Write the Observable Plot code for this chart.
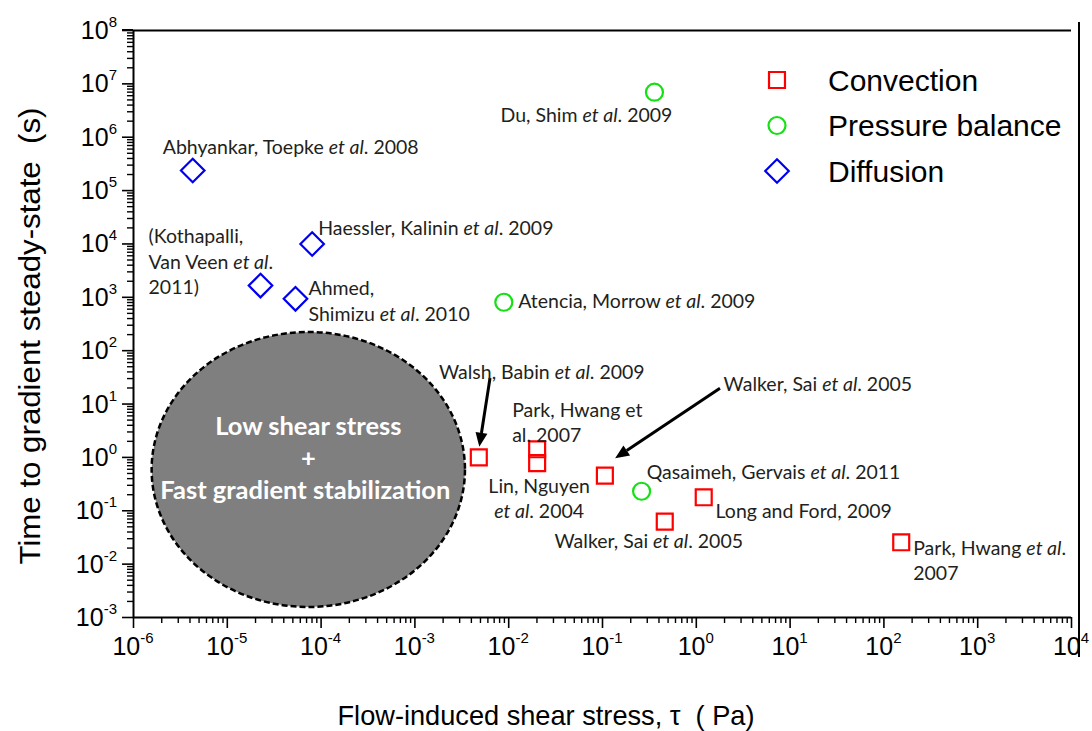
<!DOCTYPE html>
<html><head><meta charset="utf-8">
<script src="https://cdn.jsdelivr.net/npm/d3@7"></script>
<script src="https://cdn.jsdelivr.net/npm/@observablehq/plot@0.6"></script>
<style>
body{margin:0;background:#fff;}
#chart svg{display:block;}
</style></head><body><div id="chart"></div>
<script>
// ---------- data ----------
const convectionTau  = [4.80e-3, 0.0201, 0.0201, 0.106, 0.461, 1.20, 153];
const convectionTime = [1.00, 1.42, 0.78, 0.457, 0.0628, 0.179, 0.0257];
const convectionRefs = ["Walsh, Babin et al. 2009", "Park, Hwang et\nal. 2007", "Lin, Nguyen\net al. 2004",
  "Walker, Sai et al. 2005", "Walker, Sai et al. 2005", "Long and Ford, 2009", "Park, Hwang et al.\n2007"];

const pressureTau  = [0.358, 8.87e-3, 0.261];
const pressureTime = [6.98e6, 809, 0.232];
const pressureRefs = ["Du, Shim et al. 2009", "Atencia, Morrow et al. 2009", "Qasaimeh, Gervais et al. 2011"];

const diffusionTau  = [4.28e-6, 8.03e-5, 2.26e-5, 5.33e-5];
const diffusionTime = [2.38e5, 1.0e4, 1.66e3, 937];
const diffusionRefs = ["Abhyankar, Toepke et al. 2008", "Haessler, Kalinin et al. 2009",
  "(Kothapalli,\nVan Veen et al.\n2011)", "Ahmed,\nShimizu et al. 2010"];

const seriesNames = ["Convection", "Pressure balance", "Diffusion"];
const xExponents = [-6, -5, -4, -3, -2, -1, 0, 1, 2, 3, 4];
const yExponents = [-3, -2, -1, 0, 1, 2, 3, 4, 5, 6, 7, 8];

// annotation: arrows (tail -> head) and shaded region
const arrowFromTau  = [6.4e-3, 1.81];
const arrowFromTime = [30.1, 19.3];
const arrowToTau    = [4.92e-3, 0.138];
const arrowToTime   = [1.55, 0.94];
const regionTau  = [1.58e-6, 3.46e-3];
const regionTime = [219, 1.54e-3];
const regionText = ["Low shear stress", "+", "Fast gradient stabilization"];

// ---------- layout / style (kept apart from data) ----------
const labelLayout = {
  "Convection": [[63,-87,"middle"],[-25,-28,"start"],[2,34,"middle"],[213,-93,"middle"],[-16,18,"middle"],[100,13,"middle"],[12,17,"start"]],
  "Pressure balance": [[-68,22,"middle"],[133,-2,"middle"],[132,-20,"middle"]],
  "Diffusion": [[98,-25,"middle"],[6,-17,"start"],[-112,-25,"start"],[13,1,"start"]]
};
const styles = {
  "Convection": {symbol: "square", r: 9, stroke: "#ff0000"},
  "Pressure balance": {symbol: "circle", r: 8.5, stroke: "#14e014"},
  "Diffusion": {symbol: "diamond2", r: 10.6, stroke: "#0000f0"}
};
const W = 1092, H = 731;
const M = {top: 30, right: 21, bottom: 114, left: 133};

// ---------- tables ----------
function build(name, taus, times, refs) {
  return taus.map((tau, i) => ({series: name, tau, time: times[i], ref: refs[i],
    dx: labelLayout[name][i][0], dy: labelLayout[name][i][1], anchor: labelLayout[name][i][2]}));
}
const points = [
  ...build("Convection", convectionTau, convectionTime, convectionRefs),
  ...build("Pressure balance", pressureTau, pressureTime, pressureRefs),
  ...build("Diffusion", diffusionTau, diffusionTime, diffusionRefs)
];
const yMinor = yExponents.slice(0, -1).flatMap(e => d3.range(2, 10).map(m => m * 10 ** e));
const xMinor = xExponents.slice(0, -1).flatMap(e => d3.range(2, 10).map(m => m * 10 ** e));
const sans = "'Liberation Sans', Arial, Helvetica, sans-serif";
const labelFont = "Lato, 'Open Sans', sans-serif";

// ---------- custom render marks (use Plot's scales) ----------
function regionMark(index, {x, y}) {
  const x0 = x(regionTau[0]), x1 = x(regionTau[1]), y0 = y(regionTime[0]), y1 = y(regionTime[1]);
  const cx = (x0 + x1) / 2, cy = (y0 + y1) / 2;
  const g = d3.create("svg:g");
  g.append("ellipse").attr("cx", cx).attr("cy", cy).attr("rx", (x1 - x0) / 2).attr("ry", (y1 - y0) / 2)
    .attr("fill", "#7f7f7f").attr("stroke", "#000").attr("stroke-width", 2.5).attr("stroke-dasharray", "6,3");
  regionText.forEach((t, i) => {
    g.append("text").attr("x", cx - (i === 2 ? 3 : 0)).attr("y", cy - 11 + (i - 1) * 32).attr("dy", "0.35em")
      .attr("text-anchor", "middle").attr("fill", "#fff").attr("font-weight", "bold")
      .attr("font-family", labelFont).attr("font-size", 25.5).text(t);
  });
  return g.node();
}
function arrowMark(index, {x, y}) {
  const g = d3.create("svg:g");
  arrowFromTau.forEach((_, i) => {
    const ax = x(arrowFromTau[i]), ay = y(arrowFromTime[i]), bx = x(arrowToTau[i]), by = y(arrowToTime[i]);
    const len = Math.hypot(bx - ax, by - ay), ux = (bx - ax) / len, uy = (by - ay) / len;
    const hl = 14, hw = 6;
    const cx = bx - ux * hl, cy = by - uy * hl;
    g.append("line").attr("x1", ax).attr("y1", ay).attr("x2", cx).attr("y2", cy).attr("stroke", "#000").attr("stroke-width", 3);
    g.append("path").attr("d", `M${bx},${by}L${cx - uy * hw},${cy + ux * hw}L${cx + uy * hw},${cy - ux * hw}Z`).attr("fill", "#000");
  });
  return g.node();
}
function tickLabelMark(index, {x, y}) {
  const g = d3.create("svg:g").attr("font-family", sans).attr("fill", "#000");
  for (const e of yExponents) {
    const t = g.append("text").attr("x", M.left - 16).attr("y", y(10 ** e)).attr("text-anchor", "end").attr("font-size", 25);
    t.append("tspan").attr("dy", "0.36em").text("10");
    t.append("tspan").attr("dy", -12).attr("font-size", 15).text(String(e));
  }
  for (const e of xExponents) {
    const t = g.append("text").attr("x", x(10 ** e)).attr("y", H - M.bottom + 29).attr("text-anchor", "middle").attr("font-size", 25);
    t.append("tspan").attr("dy", "0.36em").text("10");
    t.append("tspan").attr("dy", -12).attr("font-size", 15).text(String(e));
  }
  return g.node();
}
function decorMark(index, scales, values, {width, height}) {
  const g = d3.create("svg:g").attr("font-family", sans).attr("fill", "#000");
  // top border stub and right border line of the original frame
  g.append("line").attr("x1", M.left - 11).attr("x2", M.left).attr("y1", M.top).attr("y2", M.top)
    .attr("stroke", "#000").attr("stroke-width", 2);
  g.append("line").attr("x1", width - M.right + 8).attr("x2", width - M.right + 8)
    .attr("y1", M.top - 8).attr("y2", height - M.bottom + 40).attr("stroke", "#000").attr("stroke-width", 2);
  // axis titles
  g.append("text").attr("x", 546).attr("y", 715).attr("dy", "0.35em").attr("text-anchor", "middle")
    .attr("font-size", 28).attr("textLength", 417).attr("lengthAdjust", "spacingAndGlyphs")
    .text("Flow-induced shear stress, \u03c4\u00a0\u00a0(\u00a0Pa)");
  g.append("text").attr("transform", "translate(30,336) rotate(-90)").attr("dy", "0.35em").attr("text-anchor", "middle")
    .attr("font-size", 29).attr("textLength", 457).attr("lengthAdjust", "spacingAndGlyphs")
    .text("Time to gradient steady-state\u00a0\u00a0(s)");
  // legend
  seriesNames.forEach((name, i) => {
    const s = styles[name];
    const lx = 777, ly = 80 + i * 45.5;
    const sym = {square: d3.symbolSquare, circle: d3.symbolCircle, diamond2: d3.symbolDiamond2}[s.symbol];
    g.append("path").attr("transform", `translate(${lx},${ly})`).attr("d", d3.symbol(sym, Math.PI * s.r * s.r)())
      .attr("fill", "none").attr("stroke", s.stroke).attr("stroke-width", 2.2);
    g.append("text").attr("x", 828).attr("y", ly).attr("dy", "0.36em").attr("text-anchor", "start")
      .attr("font-size", 30).text(name);
  });
  return g.node();
}

// ---------- plot ----------
const marks = [
  regionMark,
  Plot.ruleY([1e8], {stroke: "#000", strokeWidth: 2}),
  Plot.axisY({ticks: yMinor, tickSize: 6, tickFormat: () => "", label: null, strokeWidth: 1.4}),
  Plot.axisY({ticks: yExponents.map(e => 10 ** e), tickSize: 11, tickFormat: () => "", label: null, strokeWidth: 1.6}),
  Plot.axisX({ticks: xMinor, tickSize: 6, tickFormat: () => "", label: null, strokeWidth: 1.4}),
  Plot.axisX({ticks: xExponents.map(e => 10 ** e), tickSize: 11, tickFormat: () => "", label: null, strokeWidth: 1.6}),
  Plot.ruleX([1e-6], {stroke: "#000", strokeWidth: 2}),
  Plot.ruleY([1e-3], {stroke: "#000", strokeWidth: 2}),
  tickLabelMark,
  arrowMark,
  ...seriesNames.map(name => Plot.dot(points.filter(d => d.series === name), {
    x: "tau", y: "time", symbol: styles[name].symbol, r: styles[name].r,
    stroke: styles[name].stroke, strokeWidth: 2.2, fill: "none"})),
  ...points.map(p => Plot.text([p], {x: "tau", y: "time", text: "ref", dx: p.dx, dy: p.dy,
    textAnchor: p.anchor, lineAnchor: "middle", lineHeight: 1.3,
    fontFamily: labelFont, fontSize: 19.5, fill: "#231f20"})),
  decorMark
];

const svg = Plot.plot({
  width: W, height: H,
  marginTop: M.top, marginRight: M.right, marginBottom: M.bottom, marginLeft: M.left,
  x: {type: "log", domain: [1e-6, 1e4], label: null},
  y: {type: "log", domain: [1e-3, 1e8], label: null},
  style: {fontFamily: sans, background: "#fff", color: "#000"},
  marks
});

// italicise "et al"
const svgns = "http://www.w3.org/2000/svg";
svg.querySelectorAll("text, tspan").forEach(el => {
  for (const node of Array.from(el.childNodes)) {
    if (node.nodeType === 3 && node.nodeValue.includes("et al")) {
      const parts = node.nodeValue.split("et al");
      const frag = document.createDocumentFragment();
      parts.forEach((p, i) => {
        if (i > 0) { const t = document.createElementNS(svgns, "tspan"); t.setAttribute("font-style", "italic"); t.textContent = "et al"; frag.appendChild(t); }
        if (p) frag.appendChild(document.createTextNode(p));
      });
      node.replaceWith(frag);
    }
  }
});
document.getElementById("chart").appendChild(svg);
</script></body></html>
